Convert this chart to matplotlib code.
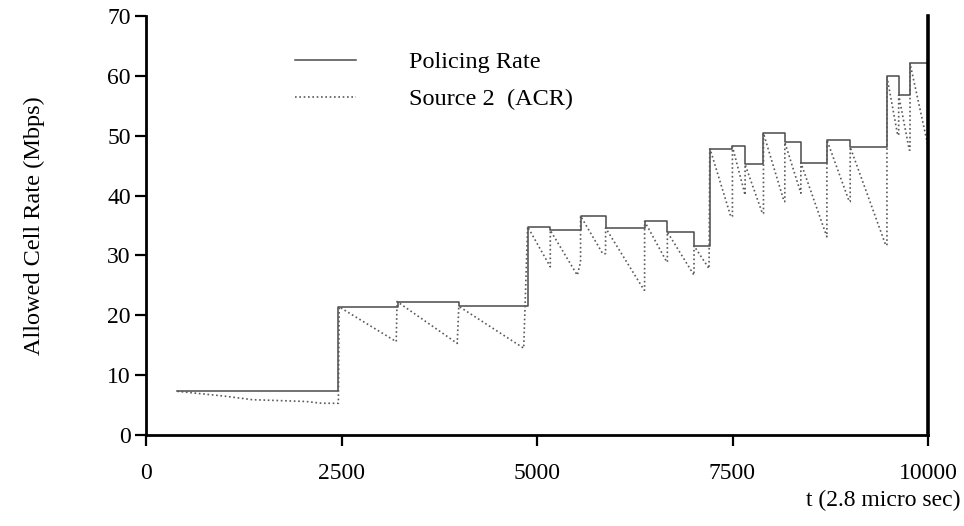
import matplotlib
matplotlib.use("Agg")
import matplotlib.pyplot as plt

# Policing Rate (step function: value holds from each x until the next x)
pol_x = [400, 2460, 3220, 4000, 4880, 5170, 5557, 5877, 6376, 6667, 7008, 7209,
         7499, 7661, 7896, 8169, 8374, 8707, 9005, 9475, 9625, 9770, 10000]
pol_y = [7.3, 21.4, 22.3, 21.5, 34.7, 34.2, 36.6, 34.6, 35.7, 33.9, 31.6, 47.8,
         48.2, 45.2, 50.4, 48.9, 45.5, 49.3, 48.1, 59.9, 56.8, 62.1, 62.1]

# Source 2 (ACR) sawtooth points
acr_x = [400, 1000, 1360, 2040, 2250, 2460,
         2470, 3200, 3210, 3980, 4000, 4830, 4880, 5170,
         5170, 5515, 5557, 5557, 5840, 5877, 5877, 6370, 6376, 6376, 6660,
         6667, 6667, 7008, 7008, 7200, 7209,
         7213, 7478, 7499, 7499, 7661, 7661, 7883, 7896, 7896, 8160, 8169, 8169,
         8374, 8374, 8707, 8707, 8993, 9005, 9005, 9460, 9475, 9475, 9612, 9625,
         9625, 9761, 9770, 9770, 10000]
acr_y = [7.3, 6.5, 5.9, 5.6, 5.3, 5.3,
         21.4, 15.6, 22.3, 15.3, 21.5, 14.5, 34.8, 28.1,
         34.2, 26.7, 28.9, 36.6, 30.3, 30.3, 34.6, 24.2, 24.2, 35.7, 28.9,
         28.9, 33.9, 26.7, 31.6, 27.8, 47.8,
         47.8, 36.5, 36.5, 48.2, 40.1, 45.2, 37.0, 37.0, 50.4, 39.0, 39.0, 48.9,
         40.4, 45.5, 33.1, 49.3, 39.0, 39.0, 48.1, 31.7, 31.7, 59.9, 50.1, 50.1,
         56.8, 47.6, 47.6, 62.1, 48.3]

x_ticks = [0, 2500, 5000, 7500, 10000]
y_ticks = [0, 10, 20, 30, 40, 50, 60, 70]

plt.rcParams['font.family'] = ['Liberation Serif', 'DejaVu Serif']

fig = plt.figure(figsize=(9.64, 5.26), dpi=100)
ax = fig.add_axes([146/964, 1 - 435/526, (928 - 146)/964, (435 - 16)/526])

ax.plot(pol_x, pol_y, drawstyle='steps-post', color='#4a4a4a', lw=1.1,
        label='Policing Rate')
ax.plot(acr_x, acr_y, color='#5a5a5a', lw=1.2, linestyle=(0, (1, 1.6)),
        label='Source 2  (ACR)')

ax.set_xlim(0, 10000)
ax.set_ylim(0, 70)
ax.set_xticks(x_ticks)
ax.set_yticks(y_ticks)
ax.tick_params(direction='out', length=8, width=1.6, labelsize=17,
               colors='black')
ax.tick_params(axis='x', pad=12)
ax.tick_params(axis='y', pad=3)

for s in ['left', 'bottom']:
    ax.spines[s].set_linewidth(2.0)
ax.spines['right'].set_linewidth(2.6)
ax.spines['top'].set_visible(False)

ax.set_ylabel('Allowed Cell Rate (Mbps)', fontsize=17.5, labelpad=45)
fig.text(960/964, 1 - 500/526, 't (2.8 micro sec)', fontsize=17,
         ha='right', va='center')

leg = ax.legend(loc='upper left', bbox_to_anchor=(295/964, 1 - 51/526),
                bbox_transform=fig.transFigure, frameon=False, fontsize=17.5,
                handlelength=2.5, handletextpad=2.2, labelspacing=0.62,
                borderpad=0, borderaxespad=0)

fig.savefig('out.png', dpi=100)
